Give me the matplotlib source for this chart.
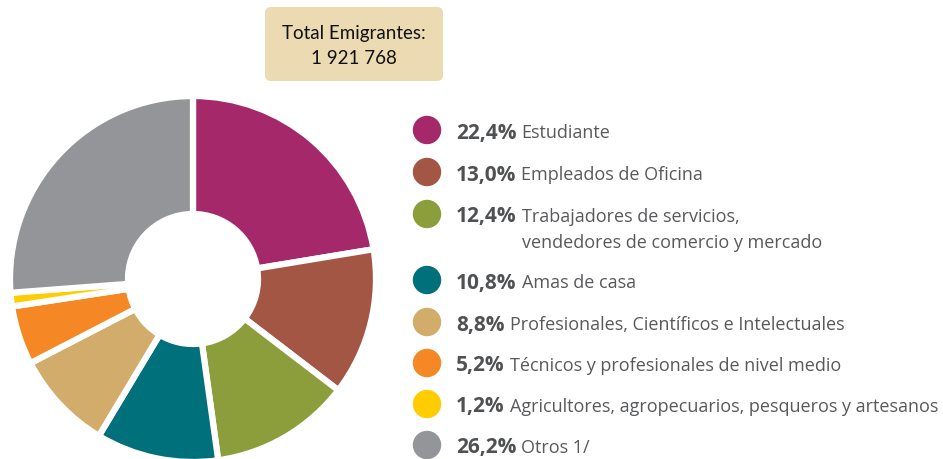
import matplotlib
matplotlib.use("Agg")
import matplotlib.pyplot as plt
from matplotlib.patches import FancyBboxPatch, Circle

plt.rcParams['font.family'] = ['Open Sans', 'DejaVu Sans']

categories = ["Estudiante", "Empleados de Oficina",
              "Trabajadores de servicios,\nvendedores de comercio y mercado",
              "Amas de casa", "Profesionales, Científicos e Intelectuales",
              "Técnicos y profesionales de nivel medio",
              "Agricultores, agropecuarios, pesqueros y artesanos",
              "Otros 1/"]
values = [22.4, 13.0, 12.4, 10.8, 8.8, 5.2, 1.2, 26.2]
pct_labels = ["22,4%", "13,0%", "12,4%", "10,8%", "8,8%", "5,2%", "1,2%", "26,2%"]
colors = ["#A4286A", "#A35644", "#8C9E3C", "#00707A", "#D2AC6A", "#F58725", "#FFCC00", "#939598"]
total_text = "Total Emigrantes:\n1 921 768"

W, H = 943, 460
fig = plt.figure(figsize=(W / 100, H / 100), dpi=100)
ax = fig.add_axes([0, 0, 1, 1])

cx, cy, R = 193, H - 280, 183
ax.pie(values, colors=colors, startangle=90, counterclock=False,
       center=(cx, cy), radius=R, frame=True,
       wedgeprops=dict(width=R - 65, edgecolor='white', linewidth=4.5))
ax.set_xlim(0, W)
ax.set_ylim(0, H)
ax.set_aspect('equal')
ax.axis('off')

# Total box
box = FancyBboxPatch((265 + 6, H - 82 + 6), 178 - 12, 74 - 12,
                     boxstyle="round,pad=6", facecolor="#ECDAB2", edgecolor="none")
ax.add_patch(box)
ax.text(354, H - 34, total_text.split("\n")[0], ha='center', va='center', fontsize=13.5,
        family=['Lato', 'DejaVu Sans'], color='#111111')
ax.text(354, H - 59, total_text.split("\n")[1], ha='center', va='center', fontsize=13.5,
        family=['Lato', 'DejaVu Sans'], color='#111111')

# Legend
rows_y = [131, 173, 215, 281, 323, 364, 405, 446]
for y, c, p, lab in zip(rows_y, colors, pct_labels, categories):
    yy = H - y
    ax.add_patch(Circle((427, yy), 13.5, color=c))
    ty = yy - 2
    t = ax.text(456, ty, p, ha='left', va='center', fontsize=15, fontweight='bold',
                color='#505153')
    fig.canvas.draw()
    bb = t.get_window_extent()
    x0 = bb.x1 + 5
    lines = lab.split("\n")
    ax.text(x0, ty, lines[0], ha='left', va='center', fontsize=13, color='#58595B')
    if len(lines) > 1:
        ax.text(x0, ty - 26, lines[1], ha='left', va='center', fontsize=13, color='#58595B')

fig.savefig("out.png", dpi=100)
